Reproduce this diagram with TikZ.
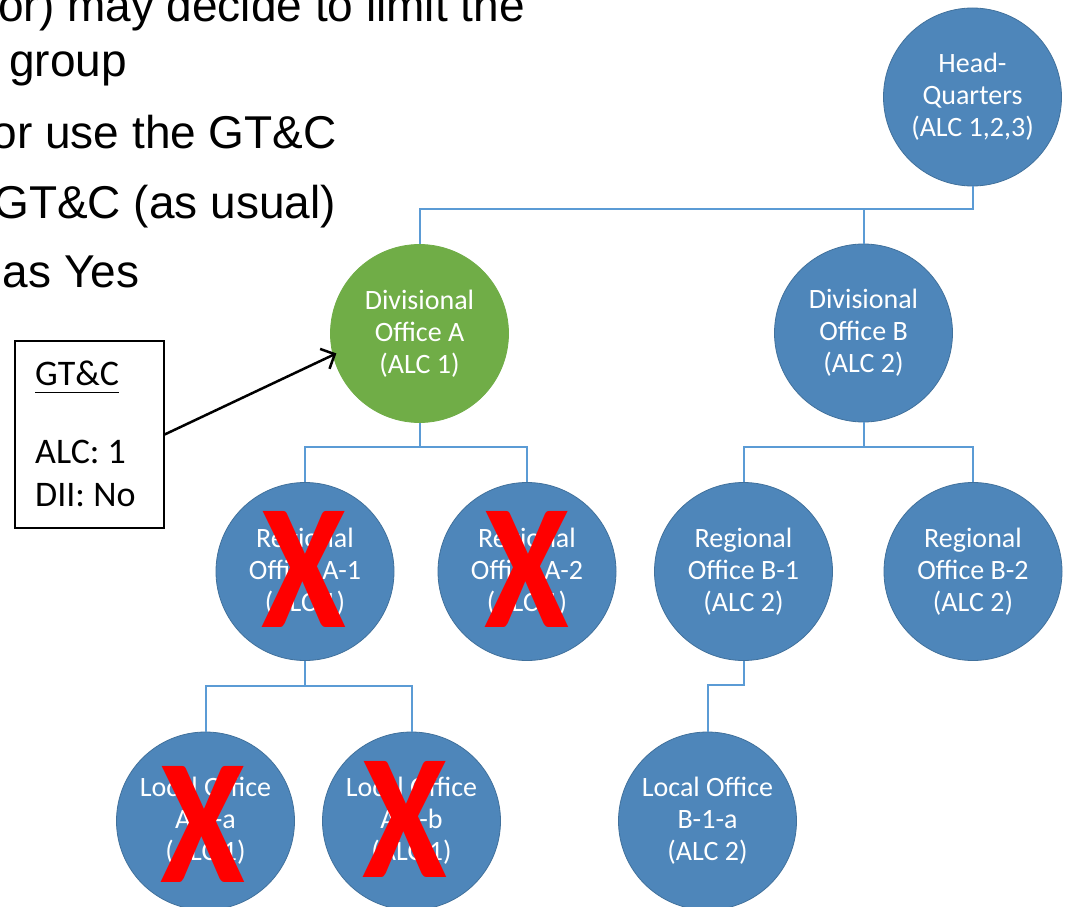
\documentclass[tikz,border=0pt]{standalone}
\usepackage{fontspec}
\usepackage{graphicx}
\setmainfont{Carlito}
\newfontfamily\arialfont{Liberation Sans}
\usetikzlibrary{arrows.meta}
\definecolor{nodeblue}{RGB}{78,134,186}
\definecolor{nodeblueline}{RGB}{65,113,156}
\definecolor{nodegreen}{RGB}{112,173,71}
\definecolor{connblue}{RGB}{91,155,213}
\definecolor{crossred}{RGB}{255,0,0}
\newcommand{\crossglyph}{\scalebox{0.86}[1]{X}}
\begin{document}
\begin{tikzpicture}[x=1pt,y=-1pt,
  office/.style={circle, minimum size=178pt, inner sep=0pt, fill=nodeblue, draw=nodeblueline, line width=0.8pt, text=white, align=center, font=\fontsize{28}{32}\selectfont},
  officegreen/.style={office, fill=nodegreen, draw=nodegreen},
  conn/.style={draw=connblue, line width=2pt},
  bigtext/.style={anchor=base east, inner sep=0pt, font=\arialfont\fontsize{46}{55}\selectfont},
  boxtext/.style={anchor=base west, inner sep=0pt, font=\fontsize{36}{43}\selectfont},
  gtcbox/.style={draw=black, line width=1.3pt, minimum width=149pt, minimum height=187pt, inner sep=0pt},
  crossmark/.style={inner sep=0pt, text=crossred, font=\bfseries\fontsize{179}{179}\selectfont},
  pointer/.style={draw=black, line width=2.5pt, -{Straight Barb[length=11pt,width=22pt]}}
]
\useasboundingbox (0,0) rectangle (1066,907);
\clip (0,0) rectangle (1066,907);
\fill[white] (0,0) rectangle (1066,907);

% slide text (cut off at the left)
\node[bigtext] (t1) at (525,22) {or) may decide to limit the};
\node[bigtext] (t2) at (127,77) {group};
\node[bigtext] (t3) at (337,148) {or use the GT\&C};
\node[bigtext] (t4) at (336,218) {GT\&C (as usual)};
\node[bigtext] (t5) at (139.5,287) {as Yes};

% offices
\node[office] (hq) at (972.5,97) {Head-\\Quarters\\(ALC 1,2,3)};
\node[officegreen] (divA) at (419.5,333.5) {Divisional\\Office A\\(ALC 1)};
\node[office] (divB) at (863.5,333) {Divisional\\Office B\\(ALC 2)};
\node[office] (rA1) at (305,571.5) {Regional\\Office A-1\\(ALC 1)};
\node[office] (rA2) at (527,571.5) {Regional\\Office A-2\\(ALC 1)};
\node[office] (rB1) at (743.5,571.5) {Regional\\Office B-1\\(ALC 2)};
\node[office] (rB2) at (973,571.5) {Regional\\Office B-2\\(ALC 2)};
\node[office] (lA1a) at (205.5,821) {Local Office\\A-1-a\\(ALC 1)};
\node[office] (lA1b) at (411.5,821) {Local Office\\A-1-b\\(ALC 1)};
\node[office] (lB1a) at (707.5,821) {Local Office\\B-1-a\\(ALC 2)};

% connectors
\draw[conn] (hq.south) |- (divA.north |- 0,209) -- (divA.north);
\draw[conn] (divB.north) -- (divB.north |- 0,209);
\draw[conn] (divA.south) -- (divA.south |- 0,447);
\draw[conn] (rA1.north) |- (rA2.north |- 0,447) -- (rA2.north);
\draw[conn] (divB.south) -- (divB.south |- 0,447);
\draw[conn] (rB1.north) |- (rB2.north |- 0,447) -- (rB2.north);
\draw[conn] (rA1.south) -- (rA1.south |- 0,686);
\draw[conn] (lA1a.north) |- (lA1b.north |- 0,686) -- (lA1b.north);
\draw[conn] (rB1.south) |- (lB1a.north |- 0,685) -- (lB1a.north);

% red crosses
\node[crossmark] (xA1) at (304,569.5) {\crossglyph};
\node[crossmark] (xA2) at (527,569.5) {\crossglyph};
\node[crossmark] (xA1a) at (203,824.5) {\crossglyph};
\node[crossmark] (xA1b) at (405,819) {\crossglyph};

% GT&C box
\node[gtcbox] (gtc) at (89.5,434.5) {};
\node[boxtext] (gtctitle) at (35,385) {\underline{\vphantom{y}GT\&C}};
\node[boxtext] (gtcalc) at (35,463) {ALC: 1};
\node[boxtext] (gtcdii) at (35,506) {DII: No};
\draw[pointer, shorten >=-4pt] (gtc.east) -- (divA.194);
\end{tikzpicture}
\end{document}
